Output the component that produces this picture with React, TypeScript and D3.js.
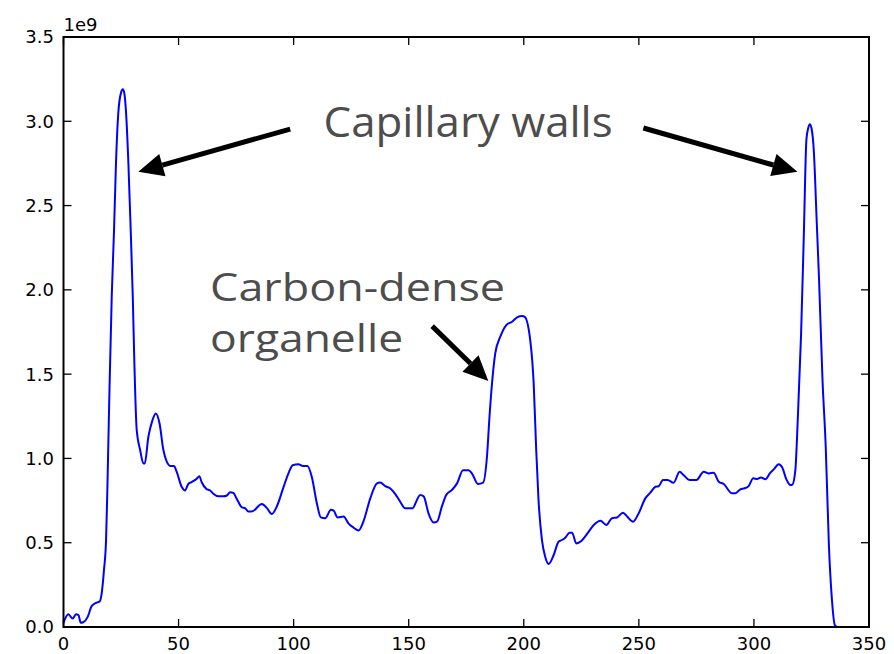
import React from "react";
import * as d3 from "d3";

// Profile position (pixels along line) and signal (units of 1e9)
const positions = [
  0, 2.1, 4, 5.4, 6.5, 7.5, 8.6, 10.4, 12.3, 14.4, 15.6, 16.6, 17.6, 18.5, 19.0, 19.5, 20.0, 20.96, 21.96, 22.8, 23.8,
  25.0, 25.8, 26.5, 27.2, 28.2, 29.2, 30.1, 30.8, 31.8, 33.3, 34.7, 35.3, 36.9, 38.5, 40.1, 41.7, 43.4, 44.9, 46.6, 48,
  49.2, 51.4, 52.8, 54.3, 55.7, 57.9, 59, 60.1, 62, 63.7, 65.1, 67.3, 69.5, 71, 72.4, 73.8, 75.3, 77.5, 78.9, 80.3,
  81.8, 86.2, 88.4, 90.5, 92.7, 95.6, 97.7, 99.6, 102.1, 104, 106, 107.9, 110.1, 111.8, 113.7, 116.2, 117.4, 119.1, 121.7, 123.8,
  126, 128.2, 130.3, 133.3, 136.2, 137.6, 139.8, 141.9, 144.1, 146.3, 148.5, 151.8, 152.8, 155, 156.5, 158.6, 160.8, 162.3, 164.4, 166.3,
  168.8, 171, 173.6, 176, 177.5, 180.1, 182.3, 184, 185.1, 186.2, 187.6, 189.8, 192.4, 194.9, 197.1, 199.3, 200.4, 202.8, 204.3, 205.4,
  206.4, 207.9, 209.3, 210.8, 213, 215.1, 216.6, 218, 219.9, 221, 222.8, 225, 227.5, 230.4, 233.3, 235.9, 238.3, 240.5, 243.1, 244.9,
  247.5, 249.9, 252.8, 255, 257.2, 258.6, 260.5, 262.5, 265.1, 267.7, 269.5, 272.1, 275, 278.2, 280.4, 282.5, 284.7, 286.9, 290.5, 292,
  294.1, 295.9, 297.7, 299.7, 301.4, 303.1, 305, 306.9, 308.6, 310.8, 312.3, 314.1, 315.9, 316.7, 318.0, 319.1, 320.5, 321.7, 322.8, 323.6,
  324.3, 325.0, 326, 327.3, 328.3, 329.8, 331.2, 332.6, 333.8, 335.2, 336.5, 337,
];
const signal = [
  0.025, 0.075, 0.05, 0.075, 0.07, 0.025, 0.028, 0.057, 0.125, 0.145, 0.15, 0.2, 0.34, 0.52, 0.78, 1.1, 1.42, 1.96, 2.355, 2.75, 3.047,
  3.17, 3.19, 3.16, 3.047, 2.75, 2.355, 1.96, 1.564, 1.17, 1.05, 0.97, 0.97, 1.13, 1.22, 1.267, 1.21, 1.05, 0.98, 0.955, 0.955,
  0.92, 0.83, 0.81, 0.85, 0.86, 0.88, 0.895, 0.857, 0.82, 0.81, 0.79, 0.775, 0.775, 0.78, 0.8, 0.795, 0.76, 0.71, 0.705, 0.685,
  0.685, 0.73, 0.705, 0.67, 0.715, 0.83, 0.91, 0.96, 0.965, 0.955, 0.955, 0.89, 0.733, 0.65, 0.645, 0.695, 0.69, 0.65, 0.655, 0.615,
  0.59, 0.572, 0.625, 0.763, 0.852, 0.857, 0.836, 0.823, 0.79, 0.743, 0.704, 0.704, 0.73, 0.783, 0.775, 0.674, 0.62, 0.625, 0.714, 0.783,
  0.813, 0.852, 0.93, 0.93, 0.91, 0.848, 0.856, 1.01, 1.247, 1.445, 1.623, 1.722, 1.791, 1.811, 1.837, 1.845, 1.84, 1.702, 1.445, 1.05,
  0.753, 0.516, 0.417, 0.374, 0.427, 0.506, 0.516, 0.53, 0.559, 0.559, 0.496, 0.51, 0.552, 0.605, 0.63, 0.605, 0.645, 0.65, 0.678, 0.655,
  0.625, 0.674, 0.763, 0.797, 0.832, 0.835, 0.872, 0.872, 0.856, 0.921, 0.9, 0.872, 0.872, 0.921, 0.911, 0.915, 0.862, 0.848, 0.793, 0.793,
  0.817, 0.823, 0.836, 0.882, 0.878, 0.887, 0.876, 0.911, 0.935, 0.965, 0.946, 0.876, 0.842, 0.845, 0.931, 1.247, 1.742, 2.335, 2.89, 2.96,
  2.983, 2.96, 2.83, 2.4, 2.06, 1.465, 1.069, 0.476, 0.18, 0.01, 0, 0,
];

const xTicks = [0, 50, 100, 150, 200, 250, 300, 350];
const yTicks = [0, 0.5, 1.0, 1.5, 2.0, 2.5, 3.0, 3.5];

// Annotations (data coordinates)
const labelTexts = ["Capillary walls", "Carbon-dense", "organelle"];
const labelX = [113, 63.7, 63.7];
const labelY = [2.906, 1.934, 1.631];
const arrowTailX = [98.5, 251.96, 160.2];
const arrowTailY = [2.954, 2.96, 1.785];
const arrowTipX = [32.5, 318.9, 184.6];
const arrowTipY = [2.7, 2.7, 1.459];

const W = 894;
const H = 654;
const left = 63.5;
const right = 869;
const top = 37;
const bottom = 627;

export default function App() {
  const x = d3.scaleLinear().domain([0, 350]).range([left, right]);
  const y = d3.scaleLinear().domain([0, 3.5]).range([bottom, top]);
  const pts: [number, number][] = positions.map((p, i) => [p, signal[i]]);
  const line = d3
    .line<[number, number]>()
    .x((d) => x(d[0]))
    .y((d) => y(d[1]))
    .curve(d3.curveMonotoneX);

  const tickLen = 8;
  const font = "DejaVu Sans, sans-serif";
  const annFont = "'Open Sans', Lato, sans-serif";
  const labelWidths = [289, 295, 193];
  const labelSizes = [42, 38, 38];

  const arrows = arrowTipX.map((_, i) => {
    const tx = x(arrowTipX[i]);
    const ty = y(arrowTipY[i]);
    const sx = x(arrowTailX[i]);
    const sy = y(arrowTailY[i]);
    const dx = tx - sx;
    const dy = ty - sy;
    const len = Math.hypot(dx, dy);
    const ux = dx / len;
    const uy = dy / len;
    const headLen = 25;
    const halfW = 11.5;
    const bx = tx - ux * headLen;
    const by = ty - uy * headLen;
    const p1 = [bx - uy * halfW, by + ux * halfW];
    const p2 = [bx + uy * halfW, by - ux * halfW];
    return { sx, sy, bx, by, tx, ty, p1, p2 };
  });

  return (
    <svg
      width={W}
      height={H}
      style={{ position: "absolute", left: 0, top: 0, background: "#fff" }}
    >
      <rect x={0} y={0} width={W} height={H} fill="#fff" />
      <path d={line(pts) || ""} fill="none" stroke="#0000ff" strokeWidth={2} strokeLinejoin="round" />

      {/* frame */}
      <rect x={left} y={top} width={right - left} height={bottom - top} fill="none" stroke="#000" strokeWidth={2} />

      {/* x ticks */}
      {xTicks.map((t) => (
        <g key={"x" + t}>
          <line x1={x(t)} x2={x(t)} y1={bottom} y2={bottom - tickLen} stroke="#000" strokeWidth={1.3} />
          <line x1={x(t)} x2={x(t)} y1={top} y2={top + tickLen} stroke="#000" strokeWidth={1.3} />
          <text x={x(t)} y={650} textAnchor="middle" fontFamily={font} fontSize={18} fill="#000">
            {t}
          </text>
        </g>
      ))}
      {/* y ticks */}
      {yTicks.map((t) => (
        <g key={"y" + t}>
          <line x1={left} x2={left + tickLen} y1={y(t)} y2={y(t)} stroke="#000" strokeWidth={1.3} />
          <line x1={right} x2={right - tickLen} y1={y(t)} y2={y(t)} stroke="#000" strokeWidth={1.3} />
          <text x={54} y={y(t)} dy="0.36em" textAnchor="end" fontFamily={font} fontSize={18} fill="#000">
            {t.toFixed(1)}
          </text>
        </g>
      ))}
      <text x={left} y={31} fontFamily={font} fontSize={18} fill="#000">
        1e9
      </text>

      {/* annotations */}
      {labelTexts.map((s, i) => (
        <text
          key={s}
          x={x(labelX[i])}
          y={y(labelY[i])}
          fontFamily={annFont}
          fontSize={labelSizes[i]}
          fill="#4d4d4d"
          textLength={labelWidths[i]}
          lengthAdjust="spacingAndGlyphs"
        >
          {s}
        </text>
      ))}
      {arrows.map((a, i) => (
        <g key={"a" + i}>
          <line x1={a.sx} y1={a.sy} x2={a.bx} y2={a.by} stroke="#000" strokeWidth={5} />
          <polygon points={`${a.tx},${a.ty} ${a.p1[0]},${a.p1[1]} ${a.p2[0]},${a.p2[1]}`} fill="#000" />
        </g>
      ))}
    </svg>
  );
}
